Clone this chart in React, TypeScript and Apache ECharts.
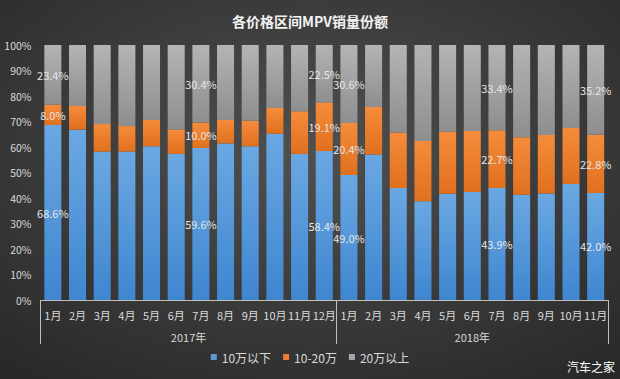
import React, { useEffect, useRef } from "react";
import * as echarts from "echarts";

const months = [
  "1月", "2月", "3月", "4月", "5月", "6月", "7月", "8月", "9月", "10月", "11月", "12月",
  "1月", "2月", "3月", "4月", "5月", "6月", "7月", "8月", "9月", "10月", "11月",
];
const yearLabels = ["2017年", "2018年"];
const yearLabelPositions = [6, 17.5];
const seriesNames = ["10万以下", "10-20万", "20万以上"];
const below10 = [68.6, 66.8, 58.2, 58.2, 60.3, 57.3, 59.6, 61.4, 60.3, 65.2, 57.3, 58.4, 49.0, 57.1, 43.9, 38.7, 41.7, 42.4, 43.9, 41.3, 41.8, 45.5, 42.0];
const mid10to20 = [8.0, 9.3, 10.8, 10.0, 10.3, 9.6, 10.0, 9.2, 10.0, 10.1, 16.7, 19.1, 20.4, 18.6, 21.8, 23.7, 24.4, 23.9, 22.7, 22.5, 22.9, 22.0, 22.8];
const above20 = [23.4, 23.9, 31.0, 31.8, 29.4, 33.1, 30.4, 29.4, 29.7, 24.7, 26.0, 22.5, 30.6, 24.3, 34.3, 37.6, 33.9, 33.7, 33.4, 36.2, 35.3, 32.5, 35.2];
const labeledIndices = [0, 6, 11, 12, 18, 22];

const grad = (a: string, b: string) =>
  new echarts.graphic.LinearGradient(0, 0, 0, 1, [
    { offset: 0, color: a },
    { offset: 1, color: b },
  ]);

export default function App() {
  const ref = useRef<HTMLDivElement>(null);
  useEffect(() => {
    if (!ref.current) return;
    const chart = echarts.init(ref.current, null, { renderer: "svg" });
    const cjk = "'Noto Sans CJK SC', 'Noto Sans', sans-serif";
    const label = {
      show: true,
      position: "inside" as const,
      color: "#e6e6e6",
      fontSize: 11,
      fontFamily: cjk,
      formatter: (p: any) => (labeledIndices.includes(p.dataIndex) ? p.value.toFixed(1) + "%" : ""),
    };
    const colors = [
      grad("#6aa8e2", "#3f86d0"),
      grad("#f58c3c", "#e0701e"),
      grad("#b4b4b4", "#8e8e8e"),
    ];
    const legendColors = ["#5b9bd5", "#ed7d31", "#a5a5a5"];
    const datas = [below10, mid10to20, above20];
    chart.setOption({
      animation: false,
      backgroundColor: new echarts.graphic.RadialGradient(0.5, 0.4, 0.8, [
        { offset: 0, color: "#505050" },
        { offset: 1, color: "#262626" },
      ]),
      title: {
        text: "各价格区间MPV销量份额",
        left: "center",
        top: 9,
        textStyle: { color: "#f2f2f2", fontSize: 14, fontWeight: "bold", fontFamily: cjk },
      },
      legend: {
        bottom: 11,
        left: "center",
        itemWidth: 6,
        itemHeight: 6,
        itemGap: 12,
        icon: "rect",
        textStyle: { color: "#d9d9d9", fontSize: 12, fontFamily: cjk },
        data: seriesNames.map((n, i) => ({ name: n, itemStyle: { color: legendColors[i] } })),
      },
      grid: { left: 40.5, right: 12, top: 45, bottom: 79 },
      xAxis: [
        {
          type: "category",
          data: months,
          position: "bottom",
          axisLine: { show: true, lineStyle: { color: "#bfbfbf", width: 1 } },
          axisTick: {
            show: true,
            interval: (i: number) => i === 0 || i === 12,
            length: 44,
            lineStyle: { color: "#bfbfbf", width: 1 },
          },
          axisLabel: { color: "#d9d9d9", fontSize: 11, margin: 9, interval: 0, fontFamily: cjk },
        },
        {
          type: "value",
          position: "bottom",
          min: 0,
          max: 23,
          interval: 0.5,
          axisLine: { show: false },
          axisTick: { show: false },
          splitLine: { show: false },
          axisLabel: {
            color: "#d9d9d9",
            fontSize: 11,
            margin: 31,
            fontFamily: cjk,
            showMinLabel: true,
            showMaxLabel: true,
            formatter: (v: number) => {
              const k = yearLabelPositions.indexOf(v);
              return k >= 0 ? yearLabels[k] : "";
            },
          },
        },
      ],
      yAxis: {
        type: "value",
        min: 0,
        max: 100,
        interval: 10,
        axisLine: { show: false },
        axisTick: { show: false },
        splitLine: { show: false },
        axisLabel: { color: "#d9d9d9", fontSize: 10.5, margin: 9, formatter: "{value}%", fontFamily: cjk },
      },
      series: datas.map((d, i) => ({
        name: seriesNames[i],
        type: "bar",
        stack: "total",
        xAxisIndex: 0,
        barCategoryGap: "31%",
        data: d,
        itemStyle: { color: colors[i] },
        label,
      })),
      graphic: [
        {
          type: "text",
          right: 5,
          top: 360,
          style: { text: "汽车之家", fill: "#ffffff", fontSize: 12, fontFamily: cjk },
        },
      ],
    });
    return () => chart.dispose();
  }, []);
  return <div ref={ref} style={{ width: 620, height: 379, position: "absolute", left: 0, top: 0 }} />;
}
